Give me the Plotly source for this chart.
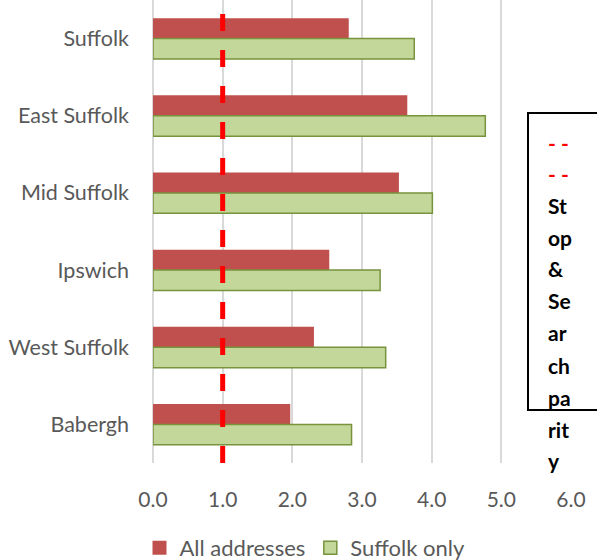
import plotly.graph_objects as go

categories = ["Suffolk", "East Suffolk", "Mid Suffolk", "Ipswich", "West Suffolk", "Babergh"]
all_addresses = [2.81, 3.65, 3.53, 2.53, 2.31, 1.97]
suffolk_only = [3.75, 4.77, 4.01, 3.26, 3.34, 2.85]
x_ticks = [0, 1, 2, 3, 4, 5, 6]
x_tick_labels = ["0.0", "1.0", "2.0", "3.0", "4.0", "5.0", "6.0"]
parity_value = 1.0
box_lines = ["- -", "- -", "St", "op", "&", "Se", "ar", "ch", "pa", "rit", "y"]

FONT = "Lato"
RED, GREEN, GREEN_EDGE = "#C0504D", "#C4D79B", "#77933C"
W, H = 597, 560
L, R, T, B = 153, 26, 0, 97
PW, PH = W - L - R, H - T - B

fig = go.Figure()
fig.add_trace(go.Bar(
    y=categories, x=all_addresses, orientation="h", name="All addresses",
    marker=dict(color=RED, line=dict(width=0)), showlegend=False,
))
fig.add_trace(go.Bar(
    y=categories, x=suffolk_only, orientation="h", name="Suffolk only",
    marker=dict(color=GREEN, line=dict(color=GREEN_EDGE, width=1.5)), showlegend=False,
))
# legend entries with square swatches
fig.add_trace(go.Scatter(x=[None], y=[None], mode="markers", name="All addresses",
                         marker=dict(symbol="square", size=14, color=RED, line=dict(width=0))))
fig.add_trace(go.Scatter(x=[None], y=[None], mode="markers", name="Suffolk only",
                         marker=dict(symbol="square", size=13, color=GREEN,
                                     line=dict(color=GREEN_EDGE, width=1.5))))

# parity dashed line
fig.add_shape(type="line", xref="x", yref="paper", x0=parity_value, x1=parity_value,
              y0=0, y1=1, line=dict(color="#FF0000", width=5, dash="17px,19px"), layer="above")

def px_x(p):
    return (p - L) / PW

def px_y(p):
    return 1 - (p - T) / PH

# legend box for parity line
fig.add_shape(type="rect", xref="paper", yref="paper",
              x0=px_x(528), x1=px_x(620), y0=px_y(410), y1=px_y(113),
              line=dict(color="black", width=2), fillcolor="rgba(0,0,0,0)", layer="above")

line_ys = [142, 173, 205, 237, 268, 300, 332, 365, 397, 429, 460]
for i, (txt, yy) in enumerate(zip(box_lines, line_ys)):
    red = i < 2
    fig.add_annotation(
        x=px_x(546), y=px_y(yy), xref="paper", yref="paper",
        xanchor="left", yanchor="middle", showarrow=False,
        text=("<b>%s</b>" % txt),
        font=dict(family=FONT, size=21, color="#FF0000" if red else "#000000"),
    )

fig.update_layout(
    width=W, height=H,
    margin=dict(l=L, r=R, t=T, b=B, pad=0),
    paper_bgcolor="white", plot_bgcolor="white",
    barmode="group", bargap=0.47, bargroupgap=0,
    font=dict(family=FONT, size=21, color="#595959"),
    showlegend=True,
    legend=dict(orientation="h", xref="container", yref="container",
                x=305 / W, xanchor="center", y=(H - 548) / H, yanchor="middle",
                font=dict(family=FONT, size=22, color="#595959"),
                traceorder="normal", itemwidth=30),
    xaxis=dict(range=[0, 6], tickvals=x_ticks, ticktext=x_tick_labels,
               showgrid=True, gridcolor="#D9D9D9", gridwidth=1.5,
               zeroline=True, zerolinecolor="#D9D9D9", zerolinewidth=1.5,
               showline=False, ticks="", ticklabelstandoff=22,
               tickfont=dict(family=FONT, size=21, color="#595959"), fixedrange=True),
    yaxis=dict(autorange="reversed", showgrid=False, zeroline=False, showline=False,
               ticks="", ticklabelstandoff=23,
               tickfont=dict(family=FONT, size=21.5, color="#595959")),
)

fig.write_html("out.html", config={"displayModeBar": False},
               post_script="document.body.style.margin='0px';document.body.style.overflow='hidden';")
